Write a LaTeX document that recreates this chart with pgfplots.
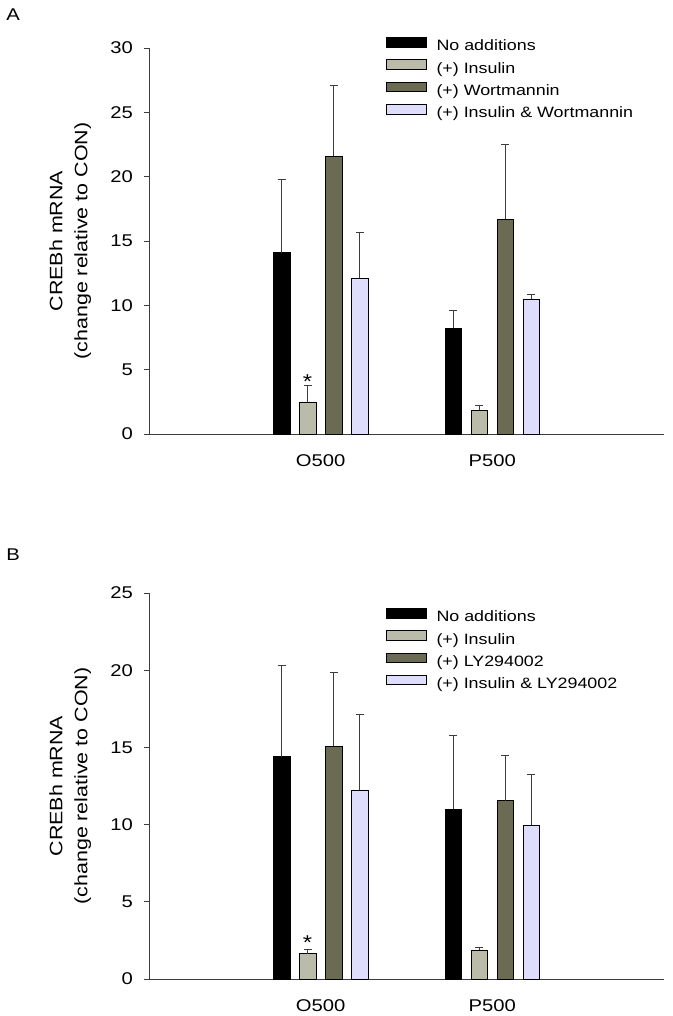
\documentclass[border=0pt]{standalone}
\usepackage{fontspec}
\setmainfont{Liberation Sans}[FakeStretch=1.19]
\usepackage{pgfplots}
\pgfplotsset{compat=1.18}
\definecolor{cIns}{RGB}{187,187,170}
\definecolor{cW}{RGB}{107,107,83}
\definecolor{cIW}{RGB}{222,222,252}
\definecolor{axcol}{RGB}{60,60,60}

\pgfplotstableread{
x y e
1 14.1 5.7
2 8.2 1.4
}\AND
\pgfplotstableread{
x y e
1 2.5 1.3
2 1.85 0.4
}\AIns
\pgfplotstableread{
x y e
1 21.6 5.5
2 16.7 5.8
}\AW
\pgfplotstableread{
x y e
1 12.1 3.6
2 10.5 0.35
}\AIW
\pgfplotstableread{
x y e
1 14.4 5.9
2 11.0 4.8
}\BND
\pgfplotstableread{
x y e
1 1.64 0.3
2 1.88 0.19
}\BIns
\pgfplotstableread{
x y e
1 15.07 4.8
2 11.55 2.95
}\BLY
\pgfplotstableread{
x y e
1 12.25 4.9
2 9.96 3.32
}\BILY

\pgfplotsset{
  mylegimg/.style={legend image code/.code={\draw[##1,line width=0.6pt] (0pt,0pt) rectangle (40pt,9.5pt); \path (50pt,0pt);}},
  panel/.style={
    scale only axis, width=515pt, height=386pt,
    anchor=south west,
    xmin=0, xmax=3, ymin=0,
    axis x line*=bottom, axis y line*=left,
    axis line style={-, draw=axcol, line width=0.8pt},
    xtick={1,2}, xticklabels={O500,P500},
    major x tick style={draw=none},
    tick align=outside, major tick length=5pt,
    major y tick style={draw=axcol, line width=0.8pt},
    /pgf/number format/assume math mode=true,
    tick label style={font=\fontsize{17}{20}\selectfont},
    yticklabel style={inner sep=0pt, xshift=-11pt},
    xticklabel style={inner sep=0pt, yshift=-15pt},
    ylabel={CREBh mRNA\\(change relative to CON)},
    every axis y label/.style={at={(axis description cs:-0.153,0.5)}, rotate=90, anchor=center, align=center, font=\fontsize{18}{25}\selectfont},
    ybar=9.5pt, bar width=16.5pt,
    every axis plot post/.append style={mylegimg},
    error bars/y dir=plus, error bars/y explicit,
    error bars/error bar style={line width=0.7pt, draw=axcol},
    error bars/error mark options={rotate=90, mark size=4pt, line width=0.7pt, draw=axcol},
    legend cell align=left,
    legend style={draw=none, fill=none, inner sep=0pt, outer sep=0pt, row sep=5.5pt,
      font=\fontsize{15}{18}\selectfont, anchor=north west,
      nodes={inner sep=0pt, text height=11pt, text depth=3pt}},
  }
}

\begin{document}
\begin{tikzpicture}
\useasboundingbox (0pt,0pt) rectangle (672pt,-1016pt);
\node[font=\fontsize{17}{17}\selectfont] at (13pt,-15pt) {A};
\node[font=\fontsize{17}{17}\selectfont] at (13pt,-555pt) {B};

\begin{axis}[panel, at={(149pt,-434pt)}, ymax=30, ytick={0,5,...,30},
  legend style={at={(axis description cs:0.460,1.028)}}]
\addplot[fill=black, draw=black, line width=0.6pt] table[x=x,y=y,y error=e]{\AND};
\addplot[fill=cIns, draw=black, line width=0.6pt] table[x=x,y=y,y error=e]{\AIns};
\addplot[fill=cW, draw=black, line width=0.6pt] table[x=x,y=y,y error=e]{\AW};
\addplot[fill=cIW, draw=black, line width=0.6pt] table[x=x,y=y,y error=e]{\AIW};
\legend{No additions,(+) Insulin,(+) Wortmannin,(+) Insulin \& Wortmannin}
\node[anchor=base, font=\fontsize{20}{20}\selectfont] at (axis cs:0.924,3.57) {*};
\end{axis}

\begin{axis}[panel, at={(149pt,-979pt)}, ymax=25, ytick={0,5,...,25},
  legend style={at={(axis description cs:0.460,0.961)}}]
\addplot[fill=black, draw=black, line width=0.6pt] table[x=x,y=y,y error=e]{\BND};
\addplot[fill=cIns, draw=black, line width=0.6pt] table[x=x,y=y,y error=e]{\BIns};
\addplot[fill=cW, draw=black, line width=0.6pt] table[x=x,y=y,y error=e]{\BLY};
\addplot[fill=cIW, draw=black, line width=0.6pt] table[x=x,y=y,y error=e]{\BILY};
\legend{No additions,(+) Insulin,(+) LY294002,(+) Insulin \& LY294002}
\node[anchor=base, font=\fontsize{20}{20}\selectfont] at (axis cs:0.924,1.94) {*};
\end{axis}
\end{tikzpicture}
\end{document}
